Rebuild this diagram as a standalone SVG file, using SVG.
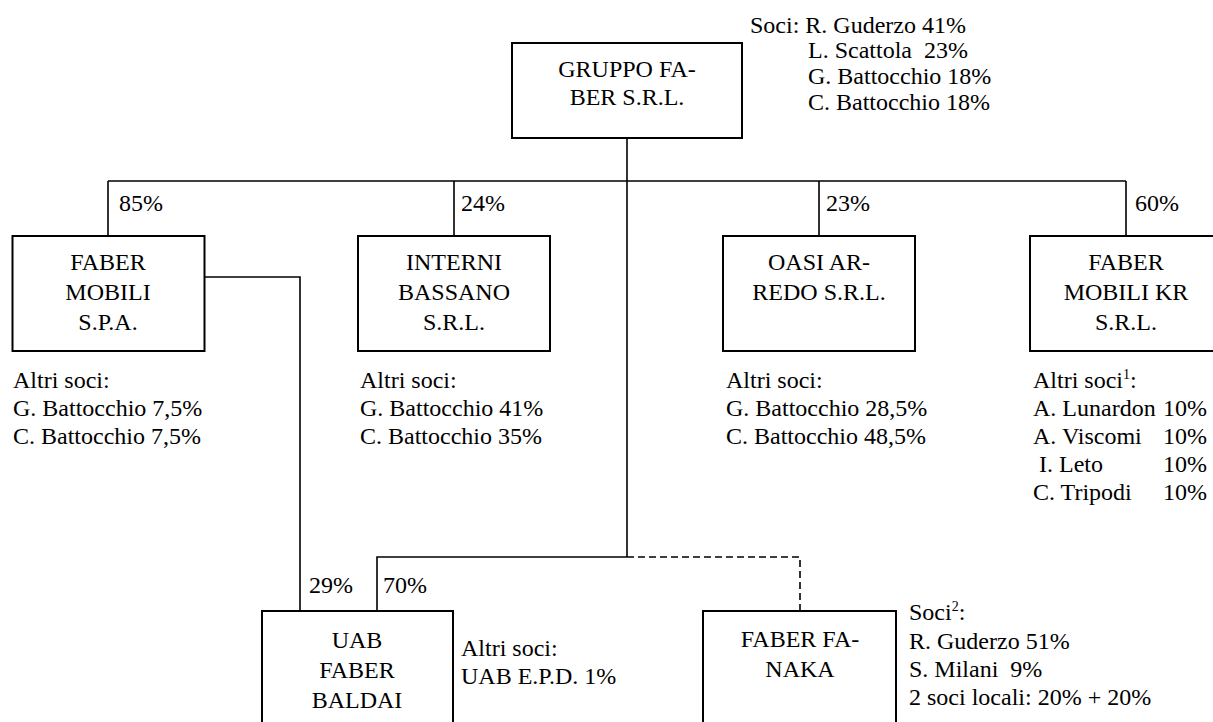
<svg xmlns="http://www.w3.org/2000/svg" width="1213" height="722" viewBox="0 0 1213 722">
<style>
text{font-family:"Liberation Serif",Tinos,"Times New Roman",Times,"Nimbus Roman","Nimbus Roman No9 L",FreeSerif,"Noto Serif","DejaVu Serif",serif;font-size:24px;fill:#000}
.c{text-anchor:middle}
.box{fill:#fff;stroke:#000;stroke-width:2}
.ln{fill:none;stroke:#000;stroke-width:1.6}
.dash{fill:none;stroke:#000;stroke-width:1.6;stroke-dasharray:7 4}
.sup{font-size:14px}
</style>
<rect width="1213" height="722" fill="#fff"/>
<g id="connectors">
<path class="ln" d="M627,138 V557"/>
<path class="ln" d="M108,181 H1126 M108,181 V236 M454,181 V236 M819,181 V236 M1126,181 V236"/>
<path class="ln" d="M204,277 H300 V614"/>
<path class="ln" d="M627,557 H377 V611"/>
<path class="dash" d="M627,557 H800 V611"/>
<text x="119" y="211">85%</text>
<text x="461" y="211">24%</text>
<text x="826" y="211">23%</text>
<text x="1135" y="211">60%</text>
<text x="309" y="593">29%</text>
<text x="383" y="593">70%</text>
</g>
<g id="gruppo">
<rect class="box" x="512" y="43" width="230" height="95"/>
<text class="c" x="627" y="77">GRUPPO FA-</text>
<text class="c" x="627" y="105">BER S.R.L.</text>
<text x="750" y="33">Soci: R. Guderzo 41%</text>
<text x="808" y="58" xml:space="preserve">L. Scattola  23%</text>
<text x="808" y="84">G. Battocchio 18%</text>
<text x="808" y="110">C. Battocchio 18%</text>
</g>
<g id="faber-mobili">
<rect class="box" x="12.5" y="236" width="192" height="115"/>
<text class="c" x="108" y="270">FABER</text>
<text class="c" x="108" y="300">MOBILI</text>
<text class="c" x="108" y="330">S.P.A.</text>
<text x="13" y="388">Altri soci:</text>
<text x="13" y="416">G. Battocchio 7,5%</text>
<text x="13" y="444">C. Battocchio 7,5%</text>
</g>
<g id="interni-bassano">
<rect class="box" x="358" y="236" width="192" height="115"/>
<text class="c" x="454" y="270">INTERNI</text>
<text class="c" x="454" y="300">BASSANO</text>
<text class="c" x="454" y="330">S.R.L.</text>
<text x="360" y="388">Altri soci:</text>
<text x="360" y="416">G. Battocchio 41%</text>
<text x="360" y="444">C. Battocchio 35%</text>
</g>
<g id="oasi-arredo">
<rect class="box" x="723" y="236" width="192" height="115"/>
<text class="c" x="819" y="270">OASI AR-</text>
<text class="c" x="819" y="300">REDO S.R.L.</text>
<text x="726" y="388">Altri soci:</text>
<text x="726" y="416">G. Battocchio 28,5%</text>
<text x="726" y="444">C. Battocchio 48,5%</text>
</g>
<g id="faber-mobili-kr">
<rect class="box" x="1030" y="236" width="192" height="115"/>
<text class="c" x="1126" y="270">FABER</text>
<text class="c" x="1126" y="300">MOBILI KR</text>
<text class="c" x="1126" y="330">S.R.L.</text>
<text x="1033" y="388">Altri soci<tspan class="sup" dy="-9">1</tspan><tspan dy="9">:</tspan></text>
<text x="1033" y="416">A. Lunardon</text>
<text x="1033" y="444">A. Viscomi</text>
<text x="1039" y="472">I. Leto</text>
<text x="1033" y="500">C. Tripodi</text>
<text x="1163" y="416">10%</text>
<text x="1163" y="444">10%</text>
<text x="1163" y="472">10%</text>
<text x="1163" y="500">10%</text>
</g>
<g id="uab-faber-baldai">
<rect class="box" x="262" y="611" width="191" height="130"/>
<text class="c" x="357" y="648">UAB</text>
<text class="c" x="357" y="678">FABER</text>
<text class="c" x="357" y="708">BALDAI</text>
<text x="461" y="656">Altri soci:</text>
<text x="461" y="684">UAB E.P.D. 1%</text>
</g>
<g id="faber-fanaka">
<rect class="box" x="703" y="611" width="193" height="130"/>
<text class="c" x="800" y="647">FABER FA-</text>
<text class="c" x="800" y="677">NAKA</text>
<text x="909" y="620">Soci<tspan class="sup" dy="-9">2</tspan><tspan dy="9">:</tspan></text>
<text x="909" y="649">R. Guderzo 51%</text>
<text x="909" y="677" xml:space="preserve">S. Milani  9%</text>
<text x="909" y="705">2 soci locali: 20% + 20%</text>
</g>
</svg>
